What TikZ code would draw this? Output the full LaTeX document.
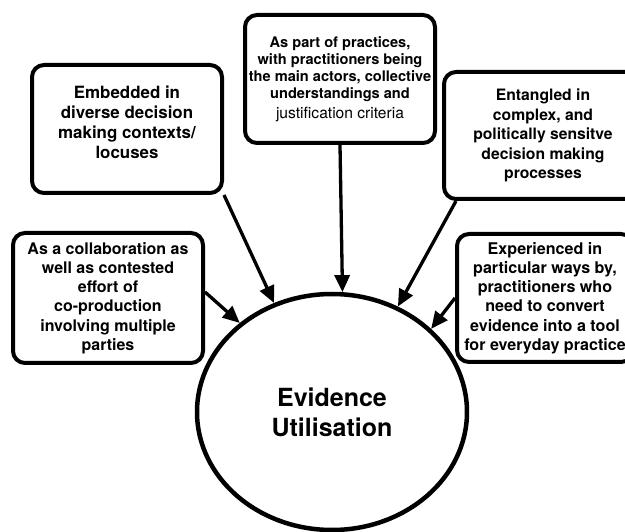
\documentclass[tikz,border=0pt]{standalone}
\usepackage{fontspec}
\setmainfont{TeX Gyre Heros}
\usetikzlibrary{shapes, positioning, arrows.meta}

\begin{document}
\begin{tikzpicture}[
    x=1pt, y=-1pt,
    >={Triangle[length=17pt, width=15pt]},
    boxKey/.style={draw, rectangle, rounded corners=12pt, line width=4pt, align=center, inner sep=0pt},
    hubKey/.style={draw, ellipse, line width=4.5pt, align=center, inner sep=0pt, font=\bfseries\fontsize{25}{30}\selectfont},
    linkArrow/.style={->, line width=3.3pt},
  ]
  \clip (0,0) rectangle (625,532);
  \node[hubKey, minimum width=270pt, minimum height=236pt] (evidenceC) at (332,412) {Evidence\\Utilisation};
  \node[boxKey, minimum width=190pt, minimum height=128pt, font=\bfseries\fontsize{16.9}{20}\selectfont] (embeddedB) at (127,129)
    {Embedded in\\diverse decision\\making contexts/\\locuses\\[-6pt]};
  \node[boxKey, minimum width=190pt, minimum height=128pt, font=\bfseries\fontsize{14.6}{17}\selectfont] (practiceB) at (340,79)
    {As part of practices,\\with practitioners being\\the main actors, collective\\understandings and\\[3pt]{\mdseries\fontsize{15.6}{17}\selectfont justification criteria}};
  \node[boxKey, minimum width=198pt, minimum height=127pt, font=\bfseries\fontsize{15.7}{19.5}\selectfont] (entangledB) at (543,135.5)
    {Entangled in\\complex, and\\politically sensitve\\decision making\\processes};
  \node[boxKey, minimum width=190pt, minimum height=130pt, font=\bfseries\fontsize{16}{19.2}\selectfont] (collabB) at (108,298)
    {As a collaboration as\\well as contested\\effort of\\co-production\\involving multiple\\parties};
  \node[boxKey, minimum width=176pt, minimum height=128pt, font=\bfseries\fontsize{16.1}{19.2}\selectfont] (experiencedB) at (545,298)
    {Experienced in\\particular ways by,\\practitioners who\\need to convert\\evidence into a tool\\for everyday practice};
  % arrows
  \draw[linkArrow] (embeddedB.south east) -- (evidenceC.118);
  \draw[linkArrow] (practiceB.south) -- (evidenceC.85);
  \draw[linkArrow] ([xshift=14pt]entangledB.south west) -- (evidenceC.58);
  \draw[linkArrow] ([yshift=6pt]collabB.east) -- (evidenceC.136);
  \draw[linkArrow] (experiencedB.west) -- (evidenceC.40);
\end{tikzpicture}
\end{document}
